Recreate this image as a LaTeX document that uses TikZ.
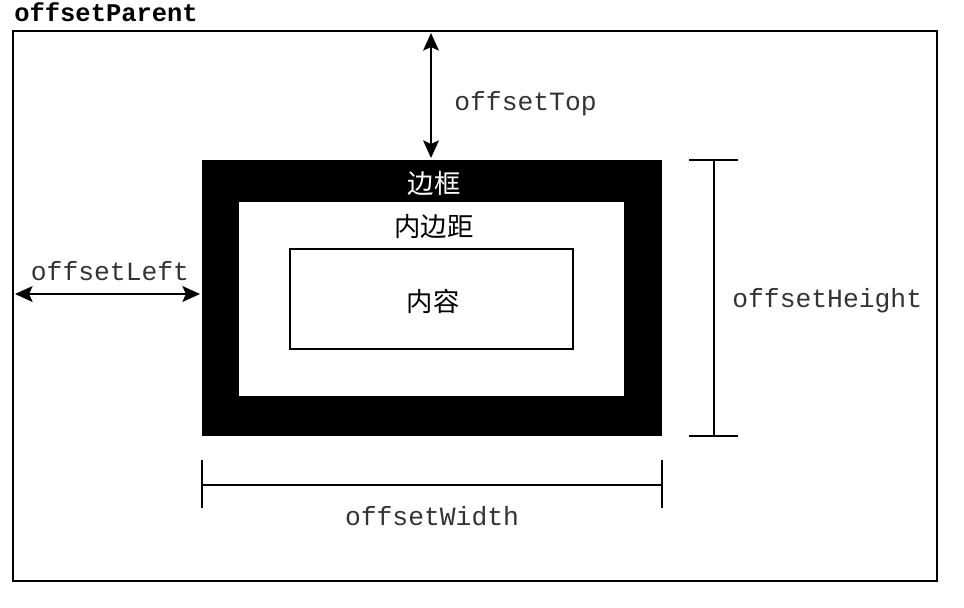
\documentclass[tikz,border=0pt]{standalone}
\usepackage{fontspec}
\setmonofont{Liberation Mono}
\newfontfamily\cjk{Noto Sans CJK SC}
\usetikzlibrary{arrows.meta}

\tikzset{
  label/.style={font=\ttfamily\fontsize{15}{18}\selectfont, text=black!80, inner sep=0pt},
  boxtext/.style={font=\cjk\fontsize{15}{17}\selectfont, inner sep=0pt},
  dim/.style={line width=1.1pt}
}

\begin{document}
\begin{tikzpicture}[x=0.02cm,y=-0.02cm,>={Stealth[length=10pt,width=9pt,inset=2pt]}]
\useasboundingbox (0,0) rectangle (964,608);

% offsetParent frame
\node[anchor=base west, inner sep=0pt, font=\ttfamily\bfseries\fontsize{14.5}{18}\selectfont] (parent) at (14,22) {offsetParent};
\coordinate (p1) at (13,31);
\coordinate (p2) at (937,581);
\draw[line width=1.2pt] (p1) rectangle (p2);

% border, padding, content
\coordinate (b1) at (202,160);
\coordinate (b2) at (662,436);
\fill (b1) rectangle (b2);
\coordinate (pad1) at (239,202);
\coordinate (pad2) at (624,396);
\fill[white] (pad1) rectangle (pad2);
\coordinate (c1) at (290,249);
\coordinate (c2) at (573,349);
\draw[line width=0.7pt] (c1) rectangle (c2);

\node[boxtext, text=white] (border) at (434,183) {边框};
\node[boxtext] (padding) at (434,227) {内边距};
\node[boxtext] (content) at (433,301) {内容};

% offsetTop
\coordinate (t1) at (431,33);
\coordinate (t2) at (431,158);
\draw[dim] [<->] (t1) -- (t2);
\node[label, anchor=west] (top) at (454,104) {offsetTop};

% offsetLeft
\coordinate (l1) at (15,294);
\coordinate (l2) at (200,294);
\draw[dim] [<->] (l1) -- (l2);
\node[label] (left) at (110,271) {offsetLeft};

% offsetHeight
\coordinate (h1) at (714,160);
\coordinate (h2) at (714,436);
\draw[dim] [-] (h1) -- (h2);
\draw[dim] [-] (689,160) -- (738,160);
\draw[dim] [-] (689,436) -- (738,436);
\node[label, anchor=west] (height) at (732,301) {offsetHeight};

% offsetWidth
\coordinate (w1) at (202,485);
\coordinate (w2) at (662,485);
\draw[dim] [-] (w1) -- (w2);
\draw[dim] [-] (202,460) -- (202,508);
\draw[dim] [-] (662,460) -- (662,508);
\node[label] (width) at (432,516) {offsetWidth};

\end{tikzpicture}
\end{document}
